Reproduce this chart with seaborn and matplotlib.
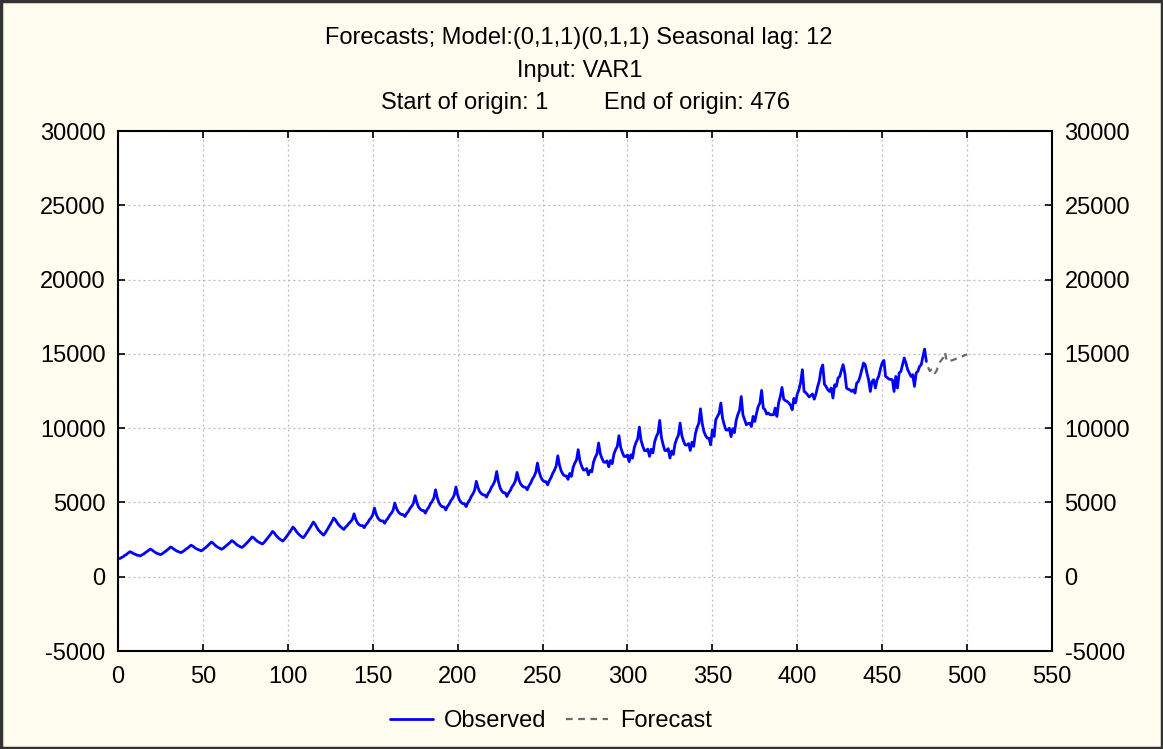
import numpy as np
import pandas as pd
import matplotlib
matplotlib.use("Agg")
import matplotlib.pyplot as plt
from matplotlib.patches import Rectangle
from matplotlib.lines import Line2D
import seaborn as sns

# ---------------- data ----------------
title_lines = ["Forecasts; Model:(0,1,1)(0,1,1) Seasonal lag: 12", "Input: VAR1"]
origin_start_label = "Start of origin: 1"
origin_end_label = "End of origin: 476"
series_names = ["Observed", "Forecast"]

x_ticks = list(range(0, 551, 50))
y_ticks = list(range(-5000, 30001, 5000))

# observed values, one row per 12-step season (t = 1 .. 476)
observed_by_year = [
    [1220, 1290, 1340, 1440, 1500, 1600, 1680, 1640, 1560, 1520, 1460, 1440],
    [1400, 1460, 1520, 1610, 1690, 1770, 1860, 1800, 1710, 1630, 1570, 1530],
    [1480, 1540, 1630, 1710, 1800, 1900, 2000, 1940, 1850, 1770, 1710, 1670],
    [1620, 1680, 1760, 1850, 1930, 2020, 2120, 2060, 1970, 1890, 1840, 1790],
    [1740, 1810, 1910, 2000, 2110, 2210, 2330, 2260, 2140, 2040, 1970, 1910],
    [1850, 1920, 2010, 2110, 2210, 2310, 2430, 2360, 2250, 2150, 2080, 2020],
    [1970, 2060, 2170, 2290, 2410, 2540, 2680, 2610, 2490, 2390, 2320, 2260],
    [2200, 2300, 2440, 2580, 2730, 2880, 3050, 2950, 2790, 2660, 2560, 2480],
    [2400, 2510, 2660, 2820, 2980, 3150, 3340, 3230, 3050, 2910, 2800, 2710],
    [2620, 2750, 2920, 3100, 3280, 3470, 3680, 3550, 3330, 3150, 3020, 2910],
    [2800, 2940, 3120, 3320, 3510, 3720, 3950, 3830, 3640, 3490, 3370, 3270],
    [3180, 3340, 3440, 3600, 3710, 3860, 4230, 3860, 3630, 3500, 3440, 3440],
    [3300, 3500, 3630, 3830, 3960, 4160, 4620, 4210, 3960, 3820, 3750, 3760],
    [3600, 3800, 3940, 4140, 4280, 4480, 4960, 4600, 4370, 4250, 4190, 4180],
    [4050, 4260, 4400, 4610, 4750, 4960, 5450, 4980, 4690, 4540, 4460, 4450],
    [4280, 4520, 4670, 4910, 5070, 5300, 5850, 5310, 4970, 4800, 4700, 4700],
    [4500, 4730, 4890, 5120, 5270, 5500, 6040, 5510, 5180, 5010, 4920, 4910],
    [4720, 4980, 5150, 5400, 5570, 5820, 6420, 5990, 5720, 5590, 5510, 5500],
    [5350, 5610, 5780, 6040, 6210, 6480, 7080, 6410, 5990, 5770, 5650, 5650],
    [5400, 5640, 5800, 6050, 6210, 6450, 7020, 6550, 6260, 6110, 6030, 6020],
    [5850, 6120, 6300, 6570, 6750, 7020, 7650, 7060, 6700, 6500, 6400, 6400],
    [6180, 6470, 6670, 6960, 7160, 7450, 8140, 7500, 7110, 6900, 6790, 6780],
    [6550, 6950, 6750, 7350, 7650, 7850, 8550, 7790, 7450, 7190, 7180, 7280],
    [6850, 7150, 7060, 7710, 8030, 8250, 9000, 8280, 7960, 7720, 7700, 7800],
    [7400, 7820, 7610, 8240, 8550, 8760, 9490, 8710, 8360, 8100, 8090, 8190],
    [7750, 8210, 7980, 8680, 9030, 9260, 10070, 9180, 8790, 8490, 8480, 8590],
    [8100, 8580, 8340, 9070, 9430, 9670, 10520, 9380, 8880, 8500, 8490, 8620],
    [7990, 8460, 8230, 8930, 9280, 9520, 10340, 9510, 9140, 8870, 8860, 8960],
    [8500, 9060, 8780, 9620, 10040, 10320, 11300, 10340, 9780, 9500, 9330, 9330],
    [8880, 9890, 9440, 10560, 10790, 11000, 11690, 10670, 10220, 9880, 9870, 10000],
    [9430, 9970, 9700, 10510, 10920, 11190, 12130, 10900, 10560, 10230, 10300, 10340],
    [10110, 10790, 10450, 11000, 11460, 11690, 12540, 11350, 11240, 10950, 11020, 10900],
    [10900, 10900, 11350, 10790, 11700, 12130, 12740, 11950, 11850, 11800, 11700, 11550],
    [11240, 12000, 11700, 12300, 12600, 13100, 13930, 12470, 12400, 12250, 12100, 12200],
    [12300, 11950, 12300, 12800, 13200, 13950, 14250, 12950, 12800, 12580, 12470, 12700],
    [12030, 12920, 12810, 13370, 13480, 13900, 14270, 13710, 12700, 12620, 12580, 12470],
    [12580, 12360, 13040, 13140, 13480, 13940, 14380, 14270, 13710, 13260, 12470, 13140],
    [13260, 12700, 13260, 13500, 14000, 14400, 14560, 13480, 13400, 13300, 13280, 13260],
    [12470, 13480, 12700, 13710, 13820, 14270, 14720, 14380, 13940, 13710, 13480, 13600],
    [12810, 13710, 13820, 14150, 14270, 14830, 15320, 14490],
]

# forecast values for t = 477 .. 500
forecast_values = [14100, 13850, 13950, 13980, 13700, 13850, 14200, 14450,
                   14600, 14750, 15100, 14500, 14520, 14550, 14560, 14600,
                   14650, 14700, 14720, 14780, 14830, 14880, 14930, 14960]

observed_values = [v for row in observed_by_year for v in row]
obs_t = np.arange(1, len(observed_values) + 1)
fc_t = np.arange(obs_t[-1] + 1, obs_t[-1] + 1 + len(forecast_values))

df_obs = pd.DataFrame({"t": obs_t, "value": observed_values})
df_fc = pd.DataFrame({"t": fc_t, "value": forecast_values})

# ---------------- styling ----------------
sns.set_style("white")
plt.rcParams['font.family'] = ['Liberation Sans', 'DejaVu Sans']
plt.rcParams['axes.unicode_minus'] = False
plt.rcParams['text.color'] = 'black'
plt.rcParams['xtick.color'] = 'black'
plt.rcParams['ytick.color'] = 'black'

W, H = 1163, 749
bg = "#FFFCF0"
FS = 17
fig = plt.figure(figsize=(W / 100, H / 100), dpi=100, facecolor=bg)

left, right, top, bottom = 118, 1052, 131, 651
ax = fig.add_axes([left / W, 1 - bottom / H, (right - left) / W, (bottom - top) / H])
ax.set_facecolor("white")

obs_color = "#0000FF"
fc_color = "#6A6A6A"
fc_dash = (0, (3, 2.5))

sns.lineplot(data=df_obs, x="t", y="value", ax=ax, color=obs_color, lw=2.0)
sns.lineplot(data=df_fc, x="t", y="value", ax=ax, color=fc_color, lw=1.6,
             linestyle=fc_dash)

ax.set_xlim(0, 550)
ax.set_ylim(-5000, 30000)
ax.set_xticks(x_ticks)
ax.set_yticks(y_ticks)
ax.set_xlabel("")
ax.set_ylabel("")
ax.grid(True, color="#B8B8B8", linestyle=(0, (1.5, 2.5)), lw=0.9)
ax.tick_params(axis="both", direction="in", length=5, width=1.2, color="black",
               labelcolor="black",
               labelsize=FS, left=True, right=True, top=True, bottom=True,
               labelleft=True, labelright=True, labeltop=False, labelbottom=True)
ax.tick_params(axis="y", pad=9)
ax.tick_params(axis="x", pad=11)
for s in ax.spines.values():
    s.set_visible(True)
    s.set_color("black")
    s.set_linewidth(1.5)

# titles
fig.text(579 / W, 1 - 38 / H, title_lines[0], ha="center", va="center", fontsize=FS, color="black")
fig.text(580 / W, 1 - 71 / H, title_lines[1], ha="center", va="center", fontsize=FS, color="black")
fig.text(381 / W, 1 - 103 / H, origin_start_label, ha="left", va="center", fontsize=FS, color="black")
fig.text(604 / W, 1 - 103 / H, origin_end_label, ha="left", va="center", fontsize=FS, color="black")

# legend
handles = [Line2D([], [], color=obs_color, lw=2.0),
           Line2D([], [], color=fc_color, lw=1.6, linestyle=fc_dash)]
leg = fig.legend(handles, series_names, loc="center", bbox_to_anchor=(551 / W, 1 - 721 / H),
                 ncol=2, frameon=False, fontsize=FS, handlelength=1.8, columnspacing=0.8,
                 handletextpad=0.5)
for txt in leg.get_texts():
    txt.set_color("black")

# outer frame
fig.patches.append(Rectangle((0.001, 0.001), 0.998, 0.998, transform=fig.transFigure,
                             fill=False, edgecolor="#333333", lw=2.5))

fig.savefig("out.png", dpi=100, facecolor=bg)
